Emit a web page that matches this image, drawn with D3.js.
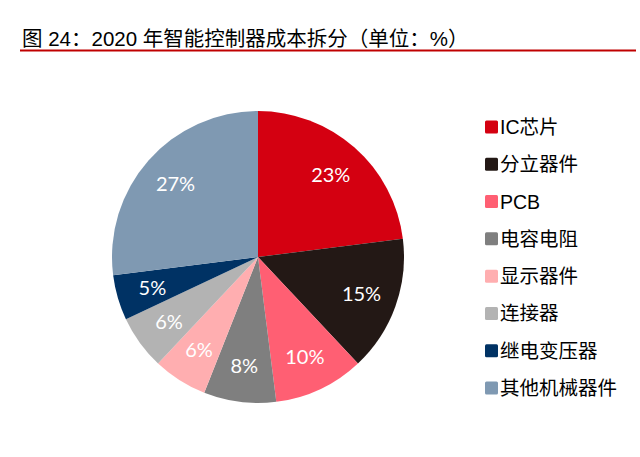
<!DOCTYPE html>
<html><head><meta charset="utf-8">
<script src="https://cdn.jsdelivr.net/npm/d3@7"></script>
<style>body{margin:0;background:#fff}svg{display:block}</style>
</head><body>
<script>
const categories = ["IC芯片","分立器件","PCB","电容电阻","显示器件","连接器","继电变压器","其他机械器件"];
const values = [23,15,10,8,6,6,5,27];
const colors = ["#d40011","#231815","#ff5f73","#7f7f7f","#ffaeb0","#b3b3b3","#003264","#7f99b2"];
const title = "图 24：2020 年智能控制器成本拆分（单位：%）";

const W = 640, H = 457;
const svg = d3.select("body").append("svg").attr("width", W).attr("height", H);
const cjk = "'Noto Sans CJK SC','Noto Sans',sans-serif";

svg.append("text").attr("x", 22).attr("y", 46)
  .attr("font-family", "'Liberation Sans','Noto Sans CJK SC',sans-serif")
  .attr("font-size", 20.5).attr("fill", "#000").text(title);
svg.append("line").attr("x1", 20).attr("x2", 636).attr("y1", 50.5).attr("y2", 50.5)
  .attr("stroke", "#c00000").attr("stroke-width", 2);

const cx = 258, cy = 257, R = 146;
const pie = d3.pie().sort(null).value(d => d)(values);
const arc = d3.arc().innerRadius(0).outerRadius(R);
const labelArc = d3.arc().innerRadius(110).outerRadius(110);
const g = svg.append("g").attr("transform", `translate(${cx},${cy})`);
g.selectAll("path").data(pie).join("path").attr("d", arc).attr("fill", (d,i) => colors[i]);
g.selectAll("text").data(pie).join("text")
  .attr("transform", d => `translate(${labelArc.centroid(d)})`)
  .attr("text-anchor", "middle").attr("dy", "0.36em")
  .attr("font-family", "Lato,'Open Sans',sans-serif").attr("font-size", 20)
  .attr("fill", "#fff").text(d => d.data + "%");

const ly = d3.scalePoint().domain(categories).range([127, 388]);
const lg = svg.append("g");
categories.forEach((c, i) => {
  lg.append("rect").attr("x", 485).attr("y", ly(c) - 6.5).attr("width", 13).attr("height", 13)
    .attr("rx", 1.5).attr("fill", colors[i]);
  lg.append("text").attr("x", 500).attr("y", ly(c)).attr("dy", "0.36em")
    .attr("font-family", "'Liberation Sans','Noto Sans CJK SC',sans-serif").attr("font-size", 19.5).attr("fill", "#000").text(c);
});
</script>
</body></html>
